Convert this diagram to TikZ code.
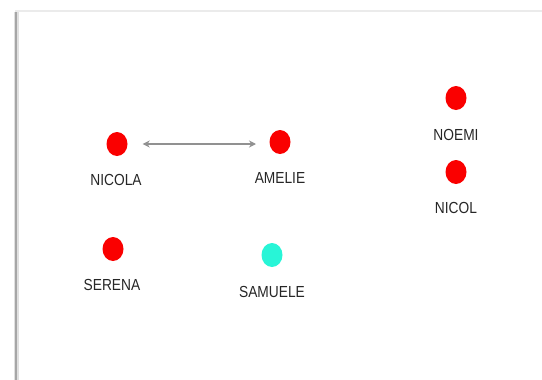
\documentclass[tikz,border=0pt]{standalone}
\usepackage{fontspec}
\setmainfont{Liberation Sans}
\definecolor{dotred}{RGB}{250, 0, 0}
\definecolor{dotcyan}{RGB}{40, 245, 215}
\definecolor{linkgray}{RGB}{145, 145, 145}
\usetikzlibrary{shapes, arrows.meta, positioning}

\begin{document}
\begin{tikzpicture}[
  x=1pt, y=-1pt,
  pdot/.style={ellipse, fill=dotred, minimum width=21pt, minimum height=24pt, inner sep=0pt},
  pname/.style={font=\fontsize{16}{18}\selectfont, text=black!85, inner sep=1pt, xscale=0.86}
]
  \useasboundingbox (0, 0) rectangle (542, 380);
  % frame
  \draw[black!8, line width=2pt] (15, 11) -- (542, 11);
  \draw[black!12, line width=5pt] (16, 12) -- (16, 380);
  \draw[black!35, line width=1.5pt] (16, 12) -- (16, 380);

  \node[pdot] (nicola) at (117, 144) {};
  \node[pdot] (amelie) at (280, 142) {};
  \node[pdot] (noemi) at (456, 98) {};
  \node[pdot] (nicol) at (456, 172) {};
  \node[pdot] (serena) at (113, 249) {};
  \node[pdot, fill=dotcyan] (samuele) at (272, 255) {};

  \node[pname] (lnicola) at (116, 180) {NICOLA};
  \node[pname] (lamelie) at (280, 178) {AMELIE};
  \node[pname] (lnoemi) at (456, 135) {NOEMI};
  \node[pname] (lnicol) at (456, 208) {NICOL};
  \node[pname] (lserena) at (112, 285) {SERENA};
  \node[pname] (lsamuele) at (272, 292) {SAMUELE};

  \draw[linkgray, line width=1.2pt, {Stealth[length=7pt, width=7pt]}-{Stealth[length=7pt, width=7pt]}, shorten <=15pt, shorten >=24pt] (nicola) -- (nicola -| amelie);
\end{tikzpicture}
\end{document}
